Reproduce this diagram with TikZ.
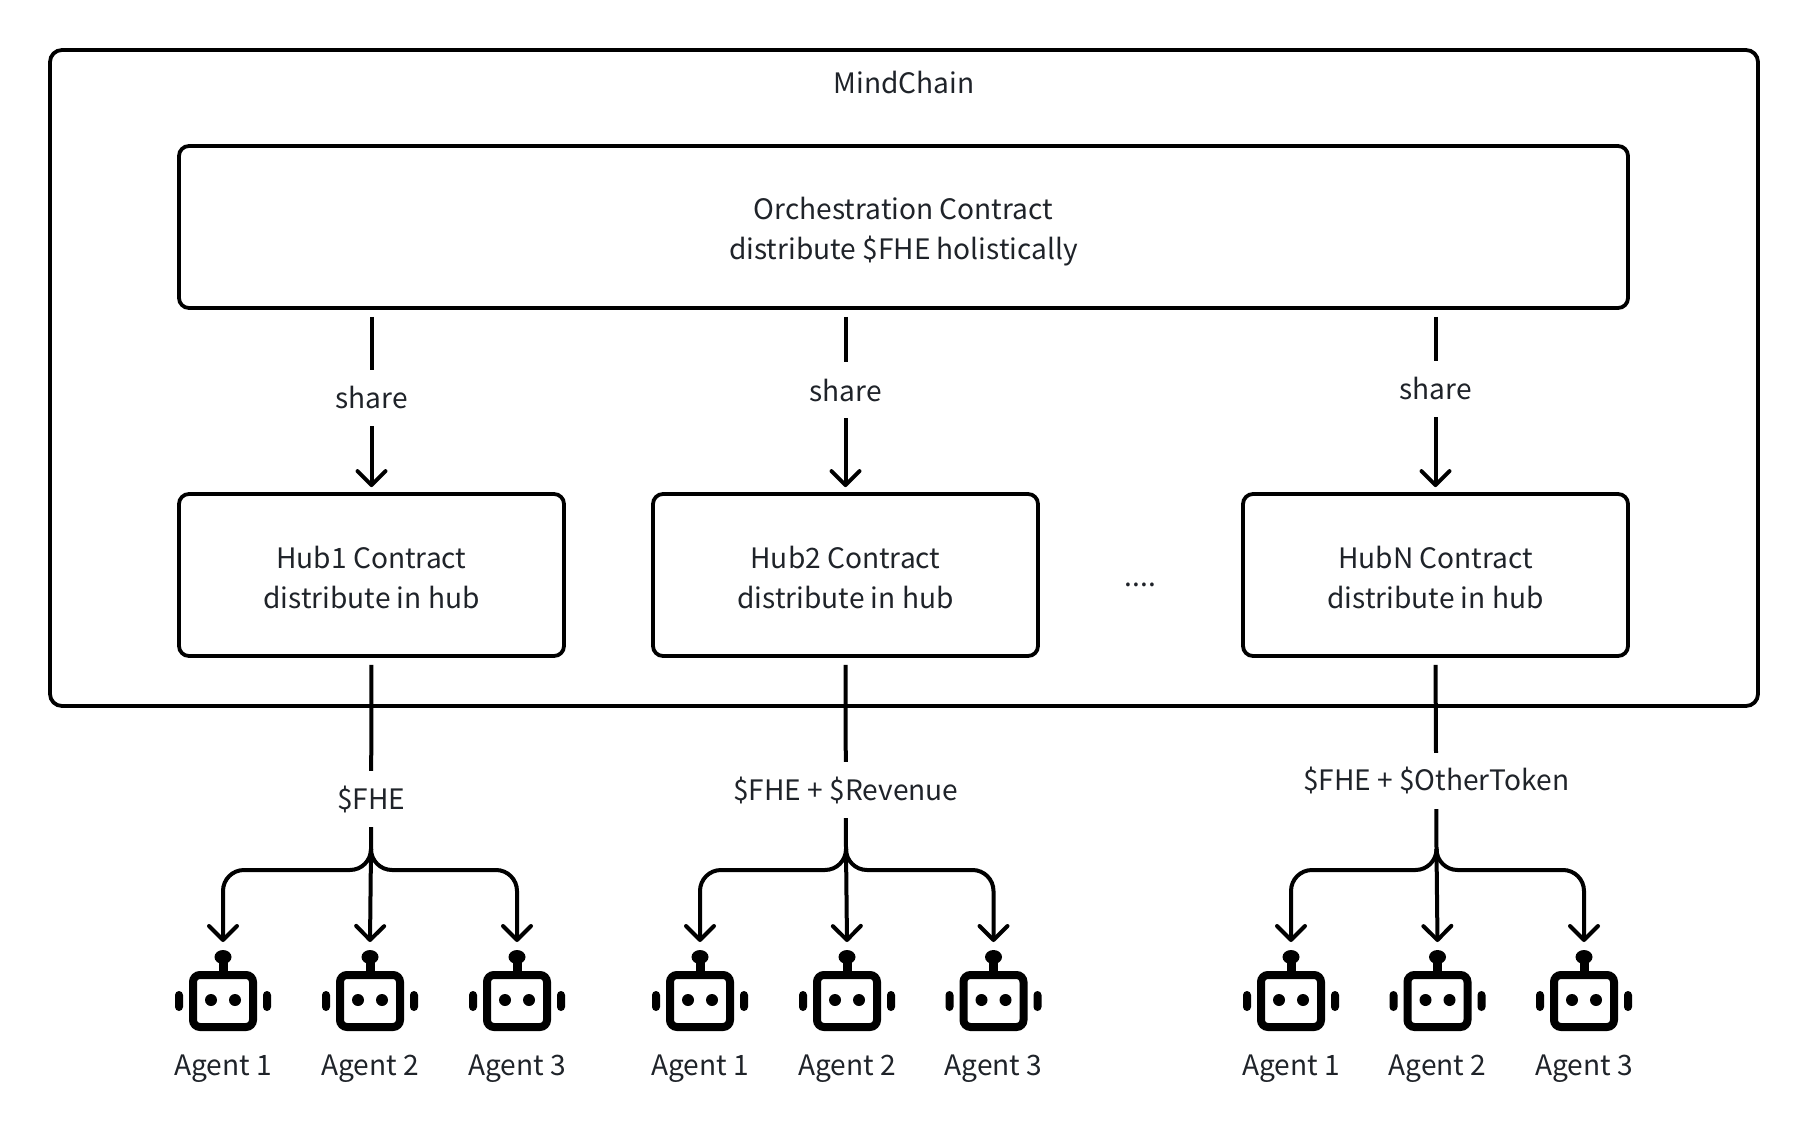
\documentclass[tikz,border=0pt]{standalone}
\usepackage{fontspec}
\setmainfont{Noto Sans CJK SC}
\usetikzlibrary{arrows.meta,calc}
\definecolor{ink}{HTML}{1F2329}
\tikzset{
  x=1pt,y=-1pt,
  box/.style={draw=black,line width=3.8pt,rounded corners=10pt,inner sep=0pt,align=center,text=ink,font=\labelfont},
  hubbox/.style={box,minimum width=385pt,minimum height=162pt},
  txt/.style={inner sep=0pt,text=ink,font=\labelfont,align=center},
  gaplabel/.style={txt,fill=white,minimum height=56pt},
  conn/.style={draw=black,line width=4pt},
  arrow/.style={conn,-{Straight Barb[length=14pt,width=28pt,line width=4pt,round]}},
  sharearrow/.style={arrow,shorten <=7pt,shorten >=5pt},
  robotbody/.style={draw=black,line width=8pt,rounded corners=7pt,minimum width=60pt,minimum height=52pt,inner sep=0pt},
  robotpart/.style={fill=black,draw=none},
}
\newcommand{\labelfont}{\fontsize{28.1}{40}\selectfont}
\newcommand{\robotat}[3]{%
  \coordinate (#1-tip) at (#2,942);
  \node[robotbody] (#1) at (#2,1001) {};
  \fill[robotpart] ($(#2,957)+(-4.5,0)$) rectangle ($(#2,975)+(4.5,0)$);
  \fill[robotpart] (#2,957) ellipse [x radius=8.5pt,y radius=7pt];
  \fill[robotpart,rounded corners=4pt] ($(#2,991)+(-48,0)$) rectangle ($(#2,1011)+(-40,0)$);
  \fill[robotpart,rounded corners=4pt] ($(#2,991)+(40,0)$) rectangle ($(#2,1011)+(48,0)$);
  \fill[robotpart] ($(#2,1000)+(-12,0)$) circle [radius=6pt];
  \fill[robotpart] ($(#2,1000)+(12,0)$) circle [radius=6pt];
  \node[txt] (#1-label) at (#2,1069) {#3};
}
\newcommand{\fanout}[4]{% stem, left, mid, right
  \coordinate (#1-bus) at (0,870);
  \draw[arrow,rounded corners=21pt] (#1) |- (#2-tip |- #1-bus) -- (#2-tip);
  \draw[arrow,rounded corners=21pt] (#1) |- (#4-tip |- #1-bus) -- (#4-tip);
  \draw[arrow] (#1) -- (#3-tip);
}
\begin{document}
\begin{tikzpicture}
\useasboundingbox (0,0) rectangle (1808,1132);
\node[box,rounded corners=12pt,minimum width=1708pt,minimum height=656pt] (chain) at (904,378) {};
\node[txt] (title) at (904,82.3) {MindChain};
\node[box,minimum width=1449pt,minimum height=162pt] (orch) at (903.5,227) {\rule{0pt}{31.4pt}Orchestration Contract\\distribute \$FHE holistically};
\node[hubbox] (hub1) at (371.5,575) {\rule{0pt}{26.6pt}Hub1 Contract\\distribute in hub};
\node[hubbox] (hub2) at (845.5,575) {\rule{0pt}{26.6pt}Hub2 Contract\\distribute in hub};
\node[hubbox] (hubn) at (1435.5,575) {\rule{0pt}{26.6pt}HubN Contract\\distribute in hub};
\node[txt] (dots) at (1140.5,585) {....};

\draw[sharearrow] (orch.south -| hub1.north) -- (hub1.north) node[gaplabel,pos=.483] (s1) {share};
\draw[sharearrow] (orch.south -| hub2.north) -- (hub2.north) node[gaplabel,pos=.44] (s2) {share};
\draw[sharearrow] (orch.south -| hubn.north) -- (hubn.north) node[gaplabel,pos=.433] (s3) {share};

\robotat{a11}{223}{Agent 1}
\robotat{a12}{370}{Agent 2}
\robotat{a13}{517}{Agent 3}
\robotat{a21}{700}{Agent 1}
\robotat{a22}{847}{Agent 2}
\robotat{a23}{993.5}{Agent 3}
\robotat{a31}{1291}{Agent 1}
\robotat{a32}{1437.5}{Agent 2}
\robotat{a33}{1584}{Agent 3}

\coordinate (stem1) at (371,850);
\coordinate (stem2) at (846,850);
\coordinate (stem3) at (1436.5,850);
\draw[conn,shorten <=7pt] (hub1.south) -- (stem1) node[gaplabel,pos=.735] (f1) {\$FHE};
\draw[conn,shorten <=7pt] (hub2.south) -- (stem2) node[gaplabel,pos=.69] (f2) {\$FHE + \$Revenue};
\draw[conn,shorten <=7pt] (hubn.south) -- (stem3) node[gaplabel,pos=.64] (f3) {\$FHE + \$OtherToken};
\fanout{stem1}{a11}{a12}{a13}
\fanout{stem2}{a21}{a22}{a23}
\fanout{stem3}{a31}{a32}{a33}
\end{tikzpicture}
\end{document}
